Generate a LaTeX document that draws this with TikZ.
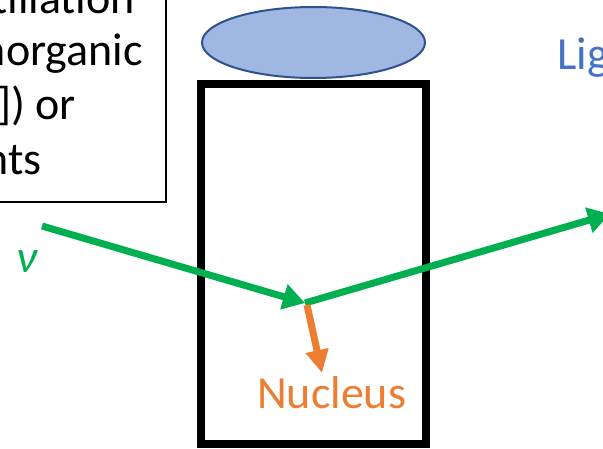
\documentclass[tikz,border=0pt]{standalone}
\usepackage{fontspec}
\setmainfont{Carlito}
\usetikzlibrary{arrows.meta,shapes.geometric}
\definecolor{pgreen}{HTML}{00B050}
\definecolor{porange}{HTML}{ED7D31}
\definecolor{pblue}{HTML}{4472C4}
\definecolor{efill}{HTML}{9FB7E1}
\definecolor{eline}{HTML}{2F528F}
\tikzset{
  big/.style={font=\fontsize{46}{50}\selectfont, inner sep=0pt},
  boxtext/.style={big, anchor=base east, text=black},
  ray/.style={pgreen, line width=7pt, -{Triangle[length=22pt,width=25pt]}},
  recoil/.style={porange, line width=7pt, -{Triangle[length=23pt,width=22pt]}},
}
\begin{document}
\begin{tikzpicture}[x=1pt,y=-1pt]
\useasboundingbox (0,0) rectangle (603,449);
\clip (0,0) rectangle (603,449);
% text box
\draw[line width=1.5pt] (-20,-20) rectangle (166,202);
\node[boxtext] (l1) at (135,14) {tillation};
\node[boxtext] (l2) at (143,66) {norganic};
\node[boxtext] (l3) at (76,120) {]) or};
\node[boxtext] (l4) at (42,175) {nts};
% detector
\node[draw=eline, fill=efill, line width=2pt, ellipse, minimum width=223pt, minimum height=71pt, inner sep=0pt] (lens) at (313.5,42.5) {};
\node[draw=black, line width=8pt, minimum width=225pt, minimum height=360pt, inner sep=0pt] (det) at (313.5,264) {};
% rays
\coordinate (in) at (42,226);
\coordinate (hit) at (305,303);
\coordinate (out) at (610,214);
\coordinate (rs) at (307,305);
\coordinate (rt) at (322,373);
\draw[ray] (in) -- (hit);
\draw[ray] (hit) -- (out);
\draw[recoil] (rs) -- (rt);
\node[big, text=pgreen, anchor=center, font=\fontsize{46}{50}\selectfont\itshape] (nu) at (27,262) {ν};
\node[big, text=porange, anchor=base west] (nuc) at (257,408) {Nucleus};
\node[big, text=pblue, anchor=base west] (lig) at (557,70) {Lig};
\end{tikzpicture}
\end{document}
